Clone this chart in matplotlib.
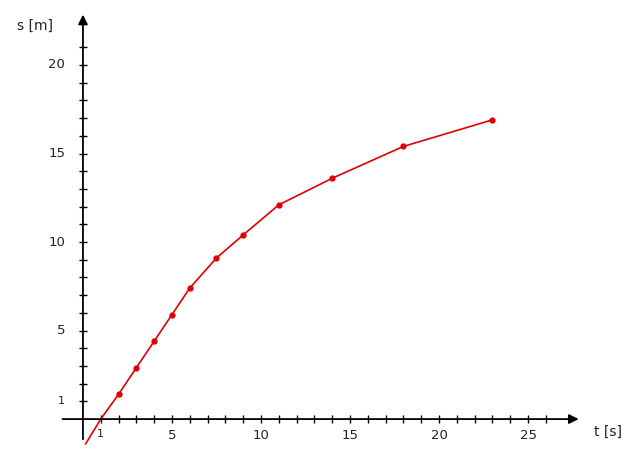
import numpy as np
import matplotlib.pyplot as plt

# measured points (t in s, s in m)
t_pts = [2, 3, 4, 5, 6, 7.5, 9, 11, 14, 18, 23]
s_pts = [1.4, 2.9, 4.4, 5.9, 7.4, 9.1, 10.4, 12.1, 13.6, 15.4, 16.9]

# hand drawn curve start (below the axis, no dots)
t_start = [0.15, 1.0]
s_start = [-1.4, 0.0]

x_ticklabels = {1: '1', 5: '5', 10: '10', 15: '15', 20: '20', 25: '25'}
y_ticklabels = {1: '1', 5: '5', 10: '10', 15: '15', 20: '20'}

red = '#e00000'

fig = plt.figure(figsize=(6.4, 4.69), dpi=100)
ax = fig.add_axes([0, 0, 1, 1])
ax.set_xlim(-4.66, 31.29)
ax.set_ylim(-2.82, 23.67)
ax.axis('off')

# axes with arrows
ax.annotate('', xy=(28.0, 0), xytext=(-1.3, 0),
            arrowprops=dict(arrowstyle='-|>', color='black', lw=1.3, mutation_scale=14))
ax.annotate('', xy=(0, 23.0), xytext=(0, -1.3),
            arrowprops=dict(arrowstyle='-|>', color='black', lw=1.3, mutation_scale=14))

# tick marks
xt = np.arange(1, 27)
ax.plot(xt, np.zeros_like(xt), ls='none', marker='|', ms=6, mew=1, color='black')
yt = np.arange(1, 22)
ax.plot(np.zeros_like(yt), yt, ls='none', marker='_', ms=6, mew=1, color='black')

for v, lab in x_ticklabels.items():
    ax.text(v, -0.55, lab, ha='center', va='top', fontsize=8 if v == 1 else 9.5, color='#222222')
for v, lab in y_ticklabels.items():
    ax.text(-1.0, v, lab, ha='right', va='center', fontsize=8 if v == 1 else 9.5, color='#222222')

ax.text(28.7, -0.75, 't [s]', ha='left', va='center', fontsize=10, color='#222222')
ax.text(-2.7, 22.2, 's [m]', ha='center', va='center', fontsize=10, color='#222222')

# curve
ax.plot(t_start + t_pts, s_start + s_pts, color=red, lw=1.2)
ax.plot(t_pts, s_pts, ls='none', marker='o', ms=3.5, color=red)

fig.savefig('out.png', dpi=100)
